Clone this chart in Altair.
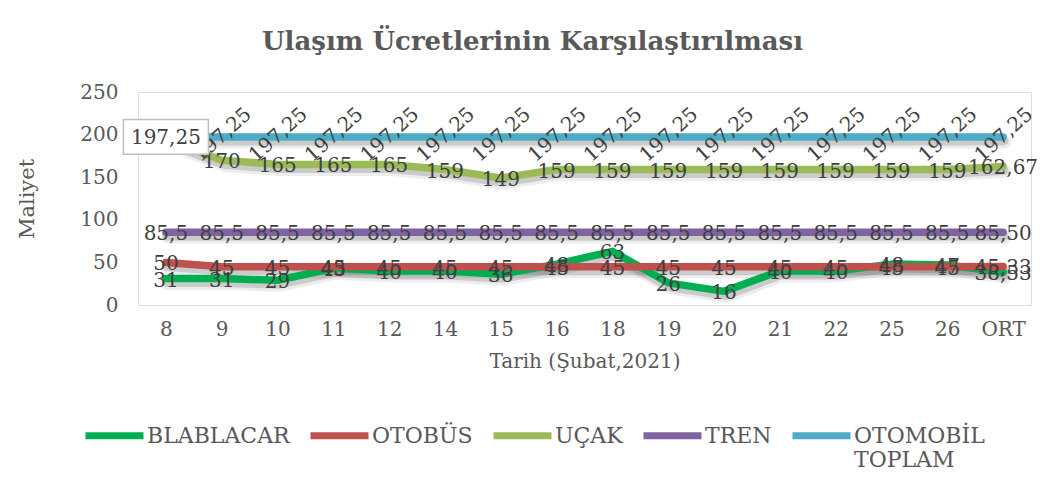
import altair as alt
import pandas as pd

dates = ["8", "9", "10", "11", "12", "14", "15", "16", "18", "19", "20", "21", "22", "25", "26", "ORT"]
blablacar = [31, 31, 29, 43, 40, 40, 36, 48, 63, 26, 16, 40, 40, 48, 47, 38.53]
otobus = [50, 45, 45, 45, 45, 45, 45, 45, 45, 45, 45, 45, 45, 45, 45, 45.33]
ucak = [195, 170, 165, 165, 165, 159, 149, 159, 159, 159, 159, 159, 159, 159, 159, 162.67]
tren = [85.5, 85.5, 85.5, 85.5, 85.5, 85.5, 85.5, 85.5, 85.5, 85.5, 85.5, 85.5, 85.5, 85.5, 85.5, 85.50]
otomobil = [197.25, 197.25, 197.25, 197.25, 197.25, 197.25, 197.25, 197.25, 197.25, 197.25,
            197.25, 197.25, 197.25, 197.25, 197.25, 197.25]
series_names = ["BLABLACAR", "OTOBÜS", "UÇAK", "TREN", "OTOMOBİL TOPLAM"]
colors = ["#00B050", "#C0504D", "#9BBB59", "#8064A2", "#4BACC6"]
y_ticks = [0, 50, 100, 150, 200, 250]


def fmt(v, is_avg):
    if is_avg:
        return f"{v:.2f}".replace(".", ",")
    if float(v).is_integer():
        return str(int(v))
    return f"{v:g}".replace(".", ",")


rows = []
for s_i, (name, vals) in enumerate(zip(series_names, [blablacar, otobus, ucak, tren, otomobil])):
    for d_i, (d, v) in enumerate(zip(dates, vals)):
        rows.append({
            "seri": name, "sira": s_i, "tarih": d, "deger": v,
            "etiket": fmt(v, d == "ORT"), "ilk": d_i == 0,
        })
df = pd.DataFrame(rows)

FONT = "DejaVu Serif"
TXT = "#404040"
AX = "#595959"

x_enc = alt.X("tarih:N", sort=dates, scale=alt.Scale(type="point", padding=0.5),
              axis=alt.Axis(title="Tarih (Şubat,2021)", labelAngle=0, domain=False, ticks=False,
                            labelPadding=14, titlePadding=12, labelFontSize=20, titleFontSize=20,
                            labelFont=FONT, titleFont=FONT, labelColor=AX, titleColor=AX,
                            titleFontWeight="normal", grid=False))
y_enc = alt.Y("deger:Q", scale=alt.Scale(domain=[0, 250], nice=False),
              axis=alt.Axis(title="Maliyet", values=y_ticks, domain=False, ticks=False, grid=False,
                            labelPadding=20, titlePadding=42, labelFontSize=20, titleFontSize=21,
                            labelFont=FONT, titleFont=FONT, labelColor=AX, titleColor=AX,
                            titleFontWeight="normal"))

color_enc = alt.Color(
    "seri:N", scale=alt.Scale(domain=series_names, range=colors),
    legend=alt.Legend(title=None, orient="none", direction="horizontal",
                      legendX=-56, legendY=311, columns=5,
                      symbolType="stroke", symbolSize=3364, symbolStrokeWidth=7,
                      labelFontSize=22, labelFont=FONT, labelColor=AX,
                      labelOffset=0, columnPadding=6, labelLimit=300,
                      labelExpr="datum.label == 'OTOMOBİL TOPLAM' ? ['OTOMOBİL', 'TOPLAM'] : [datum.label, '']",
                      labelBaseline="middle"))

base = alt.Chart(df)

shadow1 = base.mark_line(strokeWidth=13, color="#000000", opacity=0.07, yOffset=5, xOffset=2,
                         strokeCap="round", strokeJoin="round").encode(
    x=x_enc, y=y_enc, detail="seri:N")
shadow2 = base.mark_line(strokeWidth=9, color="#000000", opacity=0.14, yOffset=4, xOffset=1,
                         strokeCap="round", strokeJoin="round").encode(
    x=x_enc, y=y_enc, detail="seri:N")

line_layers = []
for name in series_names:
    line_layers.append(
        base.transform_filter(alt.datum.seri == name).mark_line(
            strokeWidth=7.5, strokeCap="round", strokeJoin="round").encode(
            x=x_enc, y=y_enc, color=color_enc)
    )

labels = base.transform_filter(alt.datum.seri != "OTOMOBİL TOPLAM").mark_text(
    fontSize=20, font=FONT, color=TXT, baseline="middle", align="center", dy=2).encode(
    x=x_enc, y=y_enc, text="etiket:N")

rot_labels = base.transform_filter(
    (alt.datum.seri == "OTOMOBİL TOPLAM") & (alt.datum.ilk == False)).mark_text(
    fontSize=20, font=FONT, color=TXT, baseline="middle", align="center", angle=318, dx=2, dy=-1).encode(
    x=x_enc, y=y_enc, text="etiket:N")

box = base.transform_filter(
    (alt.datum.seri == "OTOMOBİL TOPLAM") & (alt.datum.ilk == True)).mark_point(
    shape="M-1,-0.41L1,-0.41L1,0.41L-1,0.41Z", size=7225, filled=True, fill="white",
    stroke="#BFBFBF", strokeWidth=1.5, opacity=1).encode(x=x_enc, y=y_enc)

box_text = base.transform_filter(
    (alt.datum.seri == "OTOMOBİL TOPLAM") & (alt.datum.ilk == True)).mark_text(
    fontSize=20, font=FONT, color=TXT, baseline="middle", align="center", dy=1).encode(
    x=x_enc, y=y_enc, text="etiket:N")

chart = alt.layer(shadow1, shadow2, *line_layers, labels, rot_labels, box, box_text).properties(
    width=893, height=213,
    title=alt.TitleParams("Ulaşım Ücretlerinin Karşılaştırılması", font=FONT, fontSize=26,
                          fontWeight="bold", color=AX, anchor="middle", dx=-52, offset=27),
    autosize=alt.AutoSizeParams(type="none"),
    padding={"left": 130, "top": 84, "right": 11, "bottom": 187},
).configure_view(stroke=None).configure(background="white")

chart.save("out.html", embed_options={"renderer": "svg", "actions": False})
